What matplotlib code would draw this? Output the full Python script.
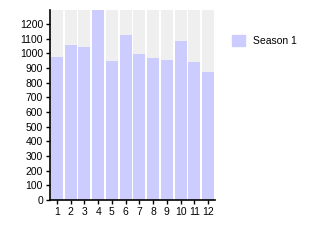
import matplotlib
matplotlib.use("Agg")
import matplotlib.pyplot as plt
from matplotlib.patches import Patch

categories = ["1", "2", "3", "4", "5", "6", "7", "8", "9", "10", "11", "12"]
season1 = [973, 1057, 1045, 1300, 948, 1127, 997, 970, 955, 1086, 943, 870]
yticks = [0, 100, 200, 300, 400, 500, 600, 700, 800, 900, 1000, 1100, 1200]
ymax = 1295

plt.rcParams['font.family'] = ['Liberation Sans', 'DejaVu Sans']
fig = plt.figure(figsize=(3.15, 2.5), dpi=100)
ax = fig.add_axes([50/315, 50/250, 165/315, 190/250])

x = list(range(len(categories)))
ax.bar(x, [ymax]*len(x), width=0.87, color="#efefef", zorder=1)
ax.bar(x, season1, width=0.87, color="#ccccff", zorder=2)
ax.set_xlim(-0.5, len(x) - 0.5)
ax.set_ylim(0, ymax)
ax.set_yticks(yticks)
ax.set_xticks(x)
ax.set_xticklabels(categories)
for s in ["top", "right"]:
    ax.spines[s].set_visible(False)
for s in ["left", "bottom"]:
    ax.spines[s].set_linewidth(1.2)
    ax.spines[s].set_zorder(3)
ax.tick_params(axis="both", labelsize=7.5, length=3, width=1, pad=2)

fig.legend(handles=[Patch(color="#ccccff", label="Season 1")],
           loc="upper left", bbox_to_anchor=(223/315, 1 - 26/250),
           frameon=False, fontsize=7.5, handlelength=1.2, handleheight=1.2,
           handletextpad=0.8)

fig.savefig("out.png", dpi=100)
